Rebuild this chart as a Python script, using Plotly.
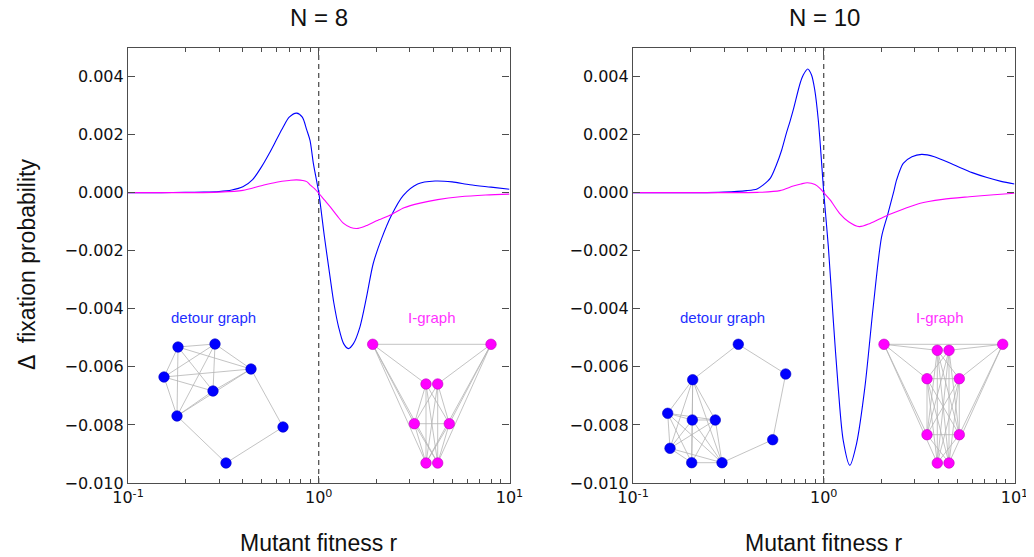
import plotly.graph_objects as go

# The page puts the figure 8 px in from the top-left corner, so the figure is
# 8 px smaller than the window and every reference pixel position is shifted.
PAGE_W, PAGE_H, OFF = 1034, 557, 8
W, H = PAGE_W - OFF, PAGE_H - OFF


def fx(p):
    return (p - OFF) / W


def fy(p):
    return 1 - (p - OFF) / H


# ---------------- data: fixation probability differences ----------------
R_BLUE_N8 = [0.1, 0.15, 0.2, 0.25, 0.3, 0.35, 0.4, 0.45, 0.5, 0.55, 0.6, 0.65, 0.7, 0.766, 0.82,
             0.865, 0.9, 0.937, 1.0, 1.07, 1.146, 1.2, 1.27, 1.35, 1.43, 1.52, 1.645, 1.78, 1.93,
             2.13, 2.41, 2.77, 3.3, 4.07, 5.0, 6.2, 8.0, 10.0]
D_BLUE_N8 = [0.0, 0.0, 0.00001, 0.00002, 0.00004, 0.00009, 0.0002, 0.00045, 0.00088, 0.00135,
             0.00182, 0.00225, 0.0026, 0.00274, 0.0026, 0.00216, 0.0018, 0.00101, 0.0, -0.0015,
             -0.0029, -0.0038, -0.00462, -0.0052, -0.00537, -0.0052, -0.00462, -0.0036, -0.00244,
             -0.0016, -0.00077, -0.0001, 0.0003, 0.0004, 0.00037, 0.00027, 0.00019, 0.00012]

R_MAG_N8 = [0.1, 0.2, 0.3, 0.4, 0.5, 0.6, 0.7, 0.766, 0.865, 0.9, 0.95, 1.0, 1.07, 1.146, 1.25,
            1.35, 1.47, 1.61, 1.8, 2.01, 2.41, 2.8, 3.4, 4.2, 5.5, 7.5, 10.0]
D_MAG_N8 = [0.0, 0.0, 0.00002, 0.00008, 0.00024, 0.00036, 0.00042, 0.00044, 0.00038, 0.00027,
            0.00014, -0.00002, -0.00025, -0.00048, -0.0008, -0.00106, -0.0012, -0.00123, -0.00112,
            -0.00097, -0.00075, -0.00052, -0.00036, -0.00024, -0.00014, -0.00008, -0.00005]

R_BLUE_N10 = [0.1, 0.2, 0.3, 0.394, 0.447, 0.482, 0.525, 0.565, 0.602, 0.637, 0.665, 0.692, 0.752,
              0.782, 0.824, 0.862, 0.897, 0.936, 0.972, 1.0, 1.057, 1.122, 1.19, 1.265, 1.37,
              1.486, 1.644, 1.817, 2.01, 2.16, 2.32, 2.41, 2.61, 2.9, 3.26, 3.8, 4.8, 6.0, 7.18,
              8.5, 10.0]
D_BLUE_N10 = [0.0, 0.0, 0.00002, 0.00007, 0.00013, 0.00027, 0.0005, 0.00096, 0.00147, 0.00205,
              0.00245, 0.00285, 0.00377, 0.00406, 0.00426, 0.00406, 0.00354, 0.00251, 0.00113, 0.0,
              -0.00186, -0.00439, -0.00669, -0.00853, -0.00939, -0.00864, -0.00669, -0.00393,
              -0.00152, -0.00077, 0.0, 0.00044, 0.00101, 0.00124, 0.00132, 0.00124, 0.00096,
              0.00069, 0.00052, 0.00039, 0.0003]

R_MAG_N10 = [0.1, 0.3, 0.45, 0.589, 0.692, 0.76, 0.82, 0.9, 0.955, 1.0, 1.08, 1.21, 1.35, 1.535,
             1.75, 2.12, 2.6, 3.17, 4.2, 5.8, 7.8, 10.0]
D_MAG_N10 = [0.0, 0.0, 0.00001, 0.00007, 0.00023, 0.0003, 0.00034, 0.00028, 0.00015, 0.0,
             -0.00025, -0.00071, -0.001, -0.00117, -0.00106, -0.0008, -0.00057, -0.00037,
             -0.00023, -0.00014, -0.00007, -0.00002]

NEUTRAL_R = 1.0
X_TICKS = [0.1, 1, 10]
X_TICKTEXT = ["10<sup>-1</sup>", "10<sup>0</sup>", "10<sup>1</sup>"]
X_MINOR = [0.2, 0.3, 0.4, 0.5, 0.6, 0.7, 0.8, 0.9, 2, 3, 4, 5, 6, 7, 8, 9]
Y_TICKS = [-0.010, -0.008, -0.006, -0.004, -0.002, 0.000, 0.002, 0.004]
Y_TICKTEXT = ["\u22120.010", "\u22120.008", "\u22120.006", "\u22120.004", "\u22120.002",
              "0.000", "0.002", "0.004"]
Y_RANGE = [-0.010, 0.005]

# ---------------- data: inset graph drawings (local layout units) ----------------
DETOUR8_X = [28, 65, 101, 14, 63, 27, 133, 76]
DETOUR8_Y = [128, 131, 106, 98, 84, 59, 48, 12]
DETOUR8_EDGES = [(0, 1), (0, 2), (0, 3), (0, 4), (0, 5), (1, 2), (1, 3), (1, 4), (1, 5),
                 (2, 3), (2, 4), (2, 5), (3, 4), (3, 5), (4, 5), (2, 6), (6, 7), (7, 5)]

IGRAPH8_X = [12.7, 131, 66, 77.7, 54.3, 89.3, 66, 77.7]
IGRAPH8_Y = [130.7, 130.7, 91, 91, 51.3, 51.3, 12, 12]
IGRAPH8_EDGES = [(0, 1), (0, 2), (1, 3), (0, 4), (0, 6), (0, 7), (1, 5), (1, 6), (1, 7),
                 (2, 4), (2, 5), (3, 4), (3, 5), (2, 6), (2, 7), (3, 6), (3, 7),
                 (4, 5), (4, 6), (4, 7), (5, 6), (5, 7)]

DETOUR10_X = [83.3, 130.7, 37.7, 12.7, 37.3, 60.3, 15, 117.7, 36.7, 67]
DETOUR10_Y = [130.7, 101, 95.3, 61.7, 55, 55, 26.7, 35.3, 12.3, 12.3]
DETOUR10_CLIQUE = [2, 3, 4, 5, 6, 8, 9]
DETOUR10_PATH = [(2, 0), (0, 1), (1, 7), (7, 9)]
DETOUR10_EDGES = [(a, b) for i, a in enumerate(DETOUR10_CLIQUE)
                  for b in DETOUR10_CLIQUE[i + 1:]] + DETOUR10_PATH

IGRAPH10_X = [14, 132.7, 67.3, 79, 57, 89.3, 57, 89.3, 67.3, 79]
IGRAPH10_Y = [130.7, 130.7, 124.7, 124.7, 96.3, 96.3, 40.3, 40.3, 12, 12]
IGRAPH10_UPPER = [2, 3, 4, 5]
IGRAPH10_LOWER = [6, 7, 8, 9]
IGRAPH10_EDGES = ([(0, 1), (0, 2), (1, 3), (0, 4), (1, 5), (0, 6), (1, 7), (0, 8), (1, 9),
                   (4, 5), (6, 7), (2, 5), (3, 4), (8, 7), (9, 6)]
                  + [(a, b) for a in IGRAPH10_UPPER for b in IGRAPH10_LOWER])

# ---------------- styles ----------------
BLUE = "#0000ff"
MAGENTA = "#ff00ff"
EDGE_GREY = "#b4b4b4"
FRAME = "#4d4d4d"
TICK_FONT = dict(family="DejaVu Sans", size=16, color="#111111")
TITLE_FONT = dict(family="Liberation Sans, Arial, sans-serif", size=24, color="#111111")

fig = go.Figure()


def add_curve(r, d, color, xa, ya):
    fig.add_trace(go.Scatter(x=r, y=d, mode="lines", xaxis=xa, yaxis=ya,
                             line=dict(color=color, width=1.1, shape="spline", smoothing=0.8),
                             hoverinfo="skip", showlegend=False))


def add_neutral(xa, ya):
    fig.add_trace(go.Scatter(x=[NEUTRAL_R, NEUTRAL_R], y=Y_RANGE, mode="lines", xaxis=xa, yaxis=ya,
                             line=dict(color="#333333", width=1.1, dash="5px,4px"),
                             hoverinfo="skip", showlegend=False))


add_neutral("x", "y")
add_curve(R_BLUE_N8, D_BLUE_N8, BLUE, "x", "y")
add_curve(R_MAG_N8, D_MAG_N8, MAGENTA, "x", "y")
add_neutral("x2", "y2")
add_curve(R_BLUE_N10, D_BLUE_N10, BLUE, "x2", "y2")
add_curve(R_MAG_N10, D_MAG_N10, MAGENTA, "x2", "y2")


def add_graph(xs, ys, edges, color, line_color, xa, ya):
    ex, ey = [], []
    for a, b in edges:
        ex += [xs[a], xs[b], None]
        ey += [ys[a], ys[b], None]
    fig.add_trace(go.Scatter(x=ex, y=ey, mode="lines", xaxis=xa, yaxis=ya,
                             line=dict(color=EDGE_GREY, width=0.8),
                             hoverinfo="skip", showlegend=False))
    fig.add_trace(go.Scatter(x=xs, y=ys, mode="markers", xaxis=xa, yaxis=ya,
                             marker=dict(color=color, size=10.5,
                                         line=dict(color=line_color, width=0.6)),
                             hoverinfo="skip", showlegend=False))


add_graph(DETOUR8_X, DETOUR8_Y, DETOUR8_EDGES, BLUE, "#0000c8", "x3", "y3")
add_graph(IGRAPH8_X, IGRAPH8_Y, IGRAPH8_EDGES, MAGENTA, "#c000c0", "x4", "y4")
add_graph(DETOUR10_X, DETOUR10_Y, DETOUR10_EDGES, BLUE, "#0000c8", "x5", "y5")
add_graph(IGRAPH10_X, IGRAPH10_Y, IGRAPH10_EDGES, MAGENTA, "#c000c0", "x6", "y6")


def main_xaxis(x0, x1, anchor):
    return dict(domain=[fx(x0), fx(x1)], anchor=anchor, type="log", range=[-1, 1],
                tickmode="array", tickvals=X_TICKS, ticktext=X_TICKTEXT,
                ticks="inside", ticklen=7, tickwidth=1, tickcolor=FRAME,
                minor=dict(tickmode="array", tickvals=X_MINOR, ticks="inside", ticklen=4,
                           tickwidth=1, tickcolor=FRAME, showgrid=False),
                showline=True, linecolor=FRAME, linewidth=1.2, mirror="allticks",
                showgrid=False, zeroline=False, tickfont=TICK_FONT, fixedrange=True,
                automargin=False)


def main_yaxis(anchor):
    return dict(domain=[fy(483), fy(47.5)], anchor=anchor, range=Y_RANGE,
                tickmode="array", tickvals=Y_TICKS, ticktext=Y_TICKTEXT,
                ticks="inside", ticklen=7, tickwidth=1, tickcolor=FRAME,
                showline=True, linecolor=FRAME, linewidth=1.2, mirror="allticks",
                showgrid=False, zeroline=False, tickfont=TICK_FONT, fixedrange=True,
                automargin=False)


def inset_axes(x0, x1, y0, y1, anchor):
    xa = dict(domain=[fx(x0), fx(x1)], range=[0, x1 - x0], visible=False, anchor=anchor,
              fixedrange=True, automargin=False)
    ya = dict(domain=[fy(y1), fy(y0)], range=[0, y1 - y0], visible=False,
              fixedrange=True, automargin=False)
    return xa, ya


x3, y3 = inset_axes(150, 295, 305, 475, "y3")
x4, y4 = inset_axes(360, 505, 305, 475, "y4")
x5, y5 = inset_axes(655, 800, 305, 475, "y5")
x6, y6 = inset_axes(870, 1015, 305, 475, "y6")
y3["anchor"], y4["anchor"], y5["anchor"], y6["anchor"] = "x3", "x4", "x5", "x6"

LABEL_FONT = "Liberation Sans, Arial, sans-serif"
annotations = [
    dict(text="N = 8", x=fx(318.5), y=fy(18), xref="paper", yref="paper",
         showarrow=False, font=TITLE_FONT, xanchor="center", yanchor="middle"),
    dict(text="N = 10", x=fx(824), y=fy(18), xref="paper", yref="paper",
         showarrow=False, font=TITLE_FONT, xanchor="center", yanchor="middle"),
    dict(text="Mutant fitness r", x=fx(318.5), y=fy(543), xref="paper", yref="paper",
         showarrow=False, font=dict(TITLE_FONT, size=23), xanchor="center", yanchor="middle"),
    dict(text="Mutant fitness r", x=fx(824), y=fy(543), xref="paper", yref="paper",
         showarrow=False, font=dict(TITLE_FONT, size=23), xanchor="center", yanchor="middle"),
    dict(text="\u0394  fixation probability", x=fx(27), y=fy(265), xref="paper",
         yref="paper", showarrow=False, textangle=-90, font=dict(TITLE_FONT, size=23),
         xanchor="center", yanchor="middle"),
    dict(text="detour graph", x=63, y=158, xref="x3", yref="y3", showarrow=False,
         font=dict(family=LABEL_FONT, size=15, color="#1f2fff")),
    dict(text="I-graph", x=72, y=158, xref="x4", yref="y4", showarrow=False,
         font=dict(family=LABEL_FONT, size=15, color="#ff33ff")),
    dict(text="detour graph", x=67, y=158, xref="x5", yref="y5", showarrow=False,
         font=dict(family=LABEL_FONT, size=15, color="#1f2fff")),
    dict(text="I-graph", x=70, y=158, xref="x6", yref="y6", showarrow=False,
         font=dict(family=LABEL_FONT, size=15, color="#ff33ff")),
]

fig.update_layout(
    width=W, height=H, autosize=False,
    margin=dict(l=0, r=0, t=0, b=0, autoexpand=False),
    paper_bgcolor="white", plot_bgcolor="rgba(0,0,0,0)",
    showlegend=False,
    xaxis=main_xaxis(128, 509.5, "y"), yaxis=main_yaxis("x"),
    xaxis2=main_xaxis(633, 1014.5, "y2"), yaxis2=main_yaxis("x2"),
    xaxis3=x3, yaxis3=y3, xaxis4=x4, yaxis4=y4,
    xaxis5=x5, yaxis5=y5, xaxis6=x6, yaxis6=y6,
    annotations=annotations,
)

fig.write_html("out.html")
